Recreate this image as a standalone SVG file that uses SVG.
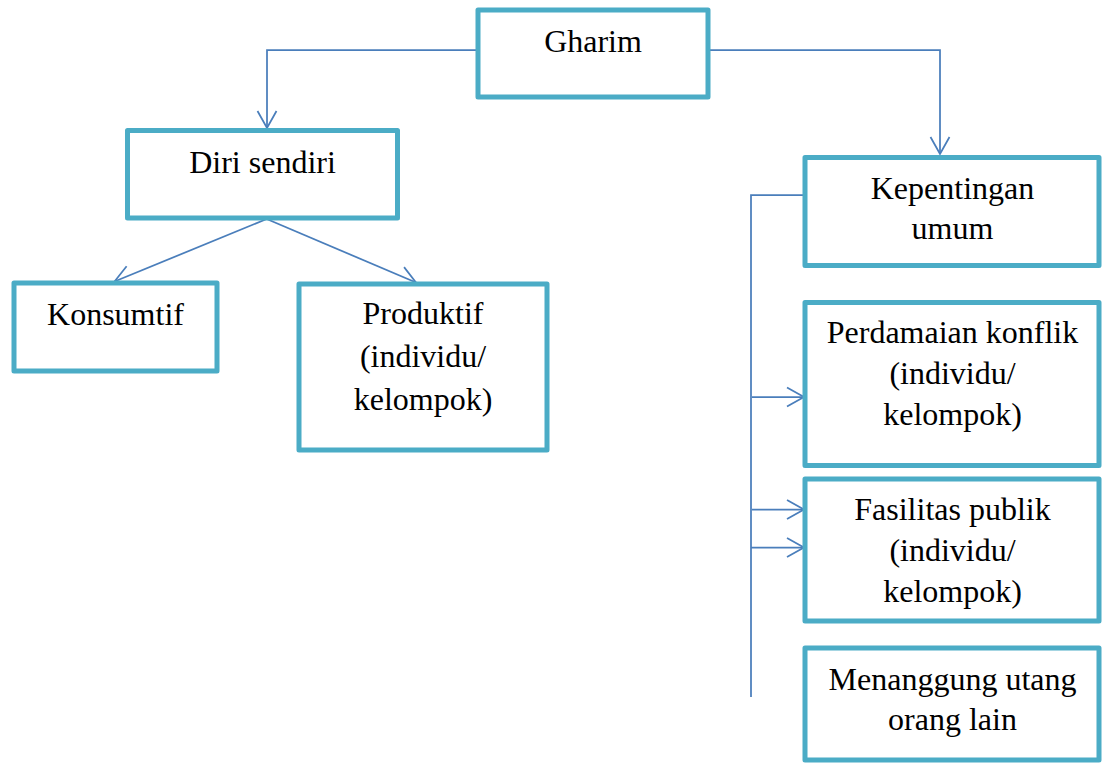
<svg xmlns="http://www.w3.org/2000/svg" width="1102" height="763" viewBox="0 0 1102 763">
<style>
.box{fill:#fff;stroke:#4BACC6;stroke-width:5;stroke-linejoin:round}
.t{font-family:'Liberation Serif','DejaVu Serif',serif;font-size:32px;fill:#000;text-anchor:middle}
.c{fill:none;stroke:#4A7EBB;stroke-width:1.75}
</style>
<defs>
<marker id="ah" markerUnits="userSpaceOnUse" viewBox="-19 -11 21 22" refX="0" refY="0" markerWidth="21" markerHeight="22" orient="auto" overflow="visible">
<path d="M-17,-9.5 L0,0 L-17,9.5" fill="none" stroke="#4A7EBB" stroke-width="1.75"/>
</marker>
</defs>
<rect width="1102" height="763" fill="#fff"/>
<g id="connectors">
<path class="c" d="M478,50 H267 V128" marker-end="url(#ah)"/>
<path class="c" d="M708,50 H940 V154" marker-end="url(#ah)"/>
<path class="c" d="M266.7,219 L114.5,281.5" marker-end="url(#ah)"/>
<path class="c" d="M266.7,219 L416,282.5" marker-end="url(#ah)"/>
<path class="c" d="M805,195 H751 V697"/>
<path class="c" d="M752,397 H804" marker-end="url(#ah)"/>
<path class="c" d="M752,509.5 H804" marker-end="url(#ah)"/>
<path class="c" d="M751,547.5 H804" marker-end="url(#ah)"/>
</g>
<g id="n-gharim"><rect class="box" x="478" y="10" width="230" height="87"/><text class="t" x="593" y="52">Gharim</text></g>
<g id="n-diri"><rect class="box" x="127.5" y="130.5" width="270" height="87.5"/><text class="t" x="262.5" y="173">Diri sendiri</text></g>
<g id="n-konsumtif"><rect class="box" x="14" y="283" width="203" height="88"/><text class="t" x="115.5" y="325">Konsumtif</text></g>
<g id="n-produktif"><rect class="box" x="299" y="284" width="248" height="166"/><text class="t" x="423" y="324">Produktif</text><text class="t" x="423" y="367">(individu/</text><text class="t" x="423" y="410">kelompok)</text></g>
<g id="n-kepentingan"><rect class="box" x="805" y="157.5" width="294" height="108"/><text class="t" x="952.5" y="199">Kepentingan</text><text class="t" x="952.5" y="239">umum</text></g>
<g id="n-perdamaian"><rect class="box" x="805" y="302.5" width="294" height="163"/><text class="t" x="952.5" y="343">Perdamaian konflik</text><text class="t" x="952.5" y="384">(individu/</text><text class="t" x="952.5" y="425">kelompok)</text></g>
<g id="n-fasilitas"><rect class="box" x="805" y="479" width="294" height="142"/><text class="t" x="952.5" y="520">Fasilitas publik</text><text class="t" x="952.5" y="561">(individu/</text><text class="t" x="952.5" y="602">kelompok)</text></g>
<g id="n-menanggung"><rect class="box" x="805" y="648" width="294" height="112"/><text class="t" x="952.5" y="690">Menanggung utang</text><text class="t" x="952.5" y="730">orang lain</text></g>
</svg>
